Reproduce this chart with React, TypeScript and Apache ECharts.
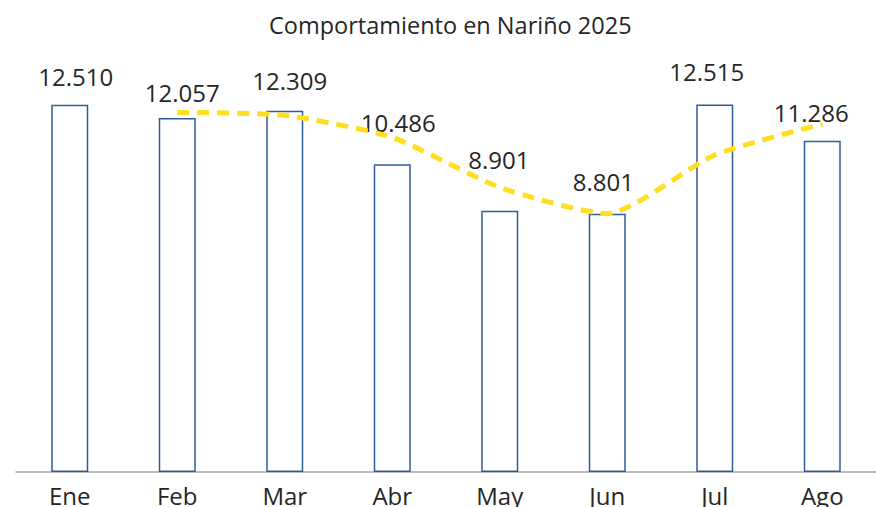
import React, { useEffect, useRef } from "react";
import * as echarts from "echarts";

const categories = ["Ene", "Feb", "Mar", "Abr", "May", "Jun", "Jul", "Ago"];
const values = [12510, 12057, 12309, 10486, 8901, 8801, 12515, 11286];
// 2-period moving average trend line
const trend = [null, 12250, 12150, 11398, 9694, 8800, 10800, 11850];
const titleText = "Comportamiento en Nariño 2025";

// label nudges (style only)
const labelOffsets = [
  [6, 0], [5, 2], [5, -2], [6, -14], [-1, -23], [-4, -4], [-8, -5], [-11, 0],
];

const fmt = (v: number) => {
  const s = String(Math.round(v));
  return s.replace(/\B(?=(\d{3})+(?!\d))/g, ".");
};

export default function App() {
  const ref = useRef<HTMLDivElement>(null);
  useEffect(() => {
    if (!ref.current) return;
    const chart = echarts.init(ref.current, undefined, { renderer: "svg" });
    const font = "'Open Sans', 'Noto Sans', sans-serif";
    chart.setOption({
      animation: false,
      textStyle: { fontFamily: font },
      title: {
        text: titleText,
        left: 264,
        top: 8,
        textStyle: { fontFamily: font, fontSize: 23.5, fontWeight: "normal", color: "#262626" },
      },
      grid: { left: 16, right: 0, top: 61, bottom: 35, containLabel: false },
      xAxis: {
        type: "category",
        data: categories,
        axisLine: { lineStyle: { color: "#A6A6A6", width: 1.5 } },
        axisTick: { show: false },
        axisLabel: { color: "#262626", fontSize: 24, fontFamily: font, margin: 11 },
      },
      yAxis: {
        type: "value",
        min: 0,
        max: 14000,
        show: false,
        splitLine: { show: false },
      },
      series: [
        {
          type: "bar",
          data: values.map((v, i) => ({
            value: v,
            label: { offset: labelOffsets[i] },
          })),
          barWidth: 37,
          itemStyle: { color: "#ffffff", borderColor: "#2E5C9A", borderWidth: 1.5 },
          label: {
            show: true,
            position: "top",
            distance: 16,
            fontSize: 24,
            fontFamily: font,
            color: "#262626",
            formatter: (p: any) => fmt(p.value),
          },
          z: 2,
        },
        {
          type: "line",
          data: trend,
          smooth: 0.2,
          symbol: "none",
          connectNulls: false,
          lineStyle: { color: "#FFDD1F", width: 5, type: [12, 8] },
          z: 3,
        },
      ],
    });
    return () => chart.dispose();
  }, []);
  return <div ref={ref} style={{ width: 876, height: 507, position: "absolute", left: 0, top: 0 }} />;
}
